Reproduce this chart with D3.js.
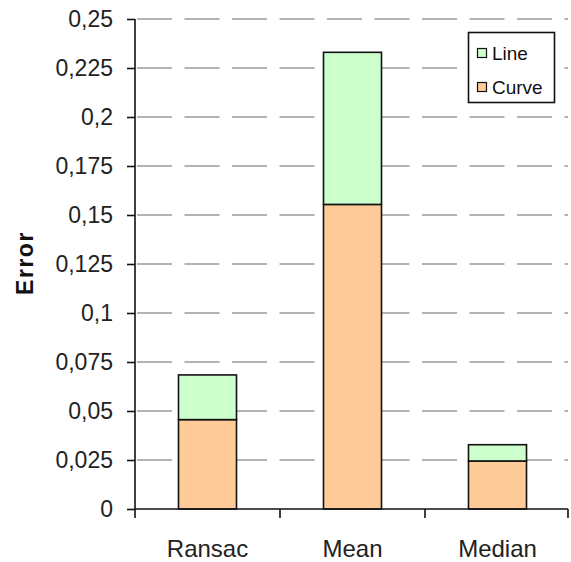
<!DOCTYPE html>
<html>
<head>
<meta charset="utf-8">
<script src="https://cdn.jsdelivr.net/npm/d3@7"></script>
<style>
  html, body { margin: 0; padding: 0; background: #fff; }
  svg { display: block; }
  text { font-family: "Liberation Sans", Arial, sans-serif; }
</style>
</head>
<body>
<svg id="chart" width="571" height="562"></svg>
<script>
// Error per estimation method, split into curve and line parts
const categories = ["Ransac", "Mean", "Median"];
const curveValues = [0.0456, 0.1554, 0.0245];
const lineValues = [0.0228, 0.0776, 0.0083];
const yTicks = [0, 0.025, 0.05, 0.075, 0.1, 0.125, 0.15, 0.175, 0.2, 0.225, 0.25];
const seriesNames = ["Line", "Curve"];
const seriesColors = { Curve: "#ffcc99", Line: "#ccffcc" };

const svg = d3.select("#chart");
const plotLeft = 135, plotRight = 570, plotTop = 19, plotBottom = 509;

const x = d3.scaleBand().domain(categories).range([plotLeft, plotRight])
  .paddingInner(0.6).paddingOuter(0.3);
const y = d3.scaleLinear().domain([0, 0.25]).range([plotBottom, plotTop]);

// dashed horizontal gridlines
svg.append("g").selectAll("line").data(yTicks.filter(d => d > 0)).join("line")
  .attr("x1", plotLeft + 2).attr("x2", 568)
  .attr("y1", d => y(d)).attr("y2", d => y(d))
  .attr("stroke", "#9a9a9a").attr("stroke-width", 1.6)
  .attr("stroke-dasharray", "35,12.5");

// stacked bars
const rows = categories.map((c, i) => ({ cat: c, Curve: curveValues[i], Line: lineValues[i] }));
const stack = d3.stack().keys(["Curve", "Line"])(rows);
svg.append("g").selectAll("g").data(stack).join("g")
  .attr("fill", s => seriesColors[s.key])
  .selectAll("rect").data(s => s).join("rect")
  .attr("x", d => x(d.data.cat))
  .attr("width", x.bandwidth())
  .attr("y", d => y(d[1]))
  .attr("height", d => y(d[0]) - y(d[1]))
  .attr("stroke", "#111").attr("stroke-width", 1.6);

// y axis
const yAxis = d3.axisLeft(y).tickValues(yTicks).tickSize(8).tickPadding(14)
  .tickFormat(d => d3.format("~g")(d).replace(".", ","));
const gy = svg.append("g").attr("transform", `translate(${plotLeft},0)`).call(yAxis);
gy.select(".domain").attr("d", `M0,${plotTop}V${plotBottom + 9}`).attr("stroke", "#111").attr("stroke-width", 1.6);
gy.selectAll(".tick line").attr("stroke", "#111").attr("stroke-width", 1.6);
gy.selectAll(".tick text").attr("font-size", 23).attr("fill", "#222")
  .attr("font-family", "'Liberation Sans', Arial, sans-serif");

// x axis with ticks at category boundaries
svg.append("line").attr("x1", plotLeft).attr("x2", 568).attr("y1", plotBottom).attr("y2", plotBottom)
  .attr("stroke", "#111").attr("stroke-width", 1.6);
const step = x.step();
const bounds = categories.map(c => x(c) + x.bandwidth() / 2 + step / 2);
svg.append("g").selectAll("line").data(bounds).join("line")
  .attr("x1", d => Math.min(d, 568)).attr("x2", d => Math.min(d, 568))
  .attr("y1", plotBottom).attr("y2", plotBottom + 9)
  .attr("stroke", "#111").attr("stroke-width", 1.6);
svg.append("g").selectAll("text").data(categories).join("text")
  .attr("x", d => x(d) + x.bandwidth() / 2).attr("y", 557)
  .attr("text-anchor", "middle").attr("font-size", 24).attr("fill", "#222")
  .text(d => d);

// y axis title
svg.append("text")
  .attr("transform", "translate(33,263) rotate(-90)")
  .attr("text-anchor", "middle").attr("font-size", 23).attr("font-weight", "bold")
  .attr("letter-spacing", 1.5).attr("fill", "#111")
  .text("Error");

// legend
const legend = svg.append("g");
legend.append("rect").attr("x", 468.5).attr("y", 32.5).attr("width", 86).attr("height", 70)
  .attr("fill", "#fff").attr("stroke", "#111").attr("stroke-width", 1.6);
const items = legend.selectAll("g").data(seriesNames).join("g")
  .attr("transform", (d, i) => `translate(0,${i * 34})`);
items.append("rect").attr("x", 477.5).attr("y", 48.5).attr("width", 9).attr("height", 9)
  .attr("fill", d => seriesColors[d]).attr("stroke", "#111").attr("stroke-width", 1.2);
items.append("text").attr("x", 492).attr("y", 60).attr("font-size", 19).attr("fill", "#111")
  .text(d => d);
</script>
</body>
</html>
